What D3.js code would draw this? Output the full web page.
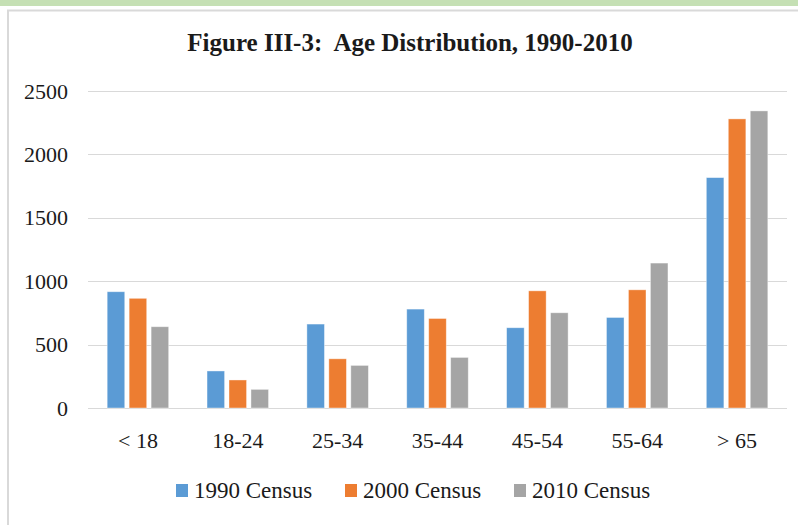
<!DOCTYPE html>
<html>
<head>
    <meta charset="utf-8">
    <style type="text/css">
        body {
            margin: 0;
            background: #fff;
        }

        svg text {
            font-family: "Liberation Serif", "DejaVu Serif", serif;
        }

        .grid line {
            stroke: #d9d9d9;
            stroke-width: 1;
        }

        .label {
            fill: #1a1a1a;
        }
    </style>
    <title>Age Distribution</title>
</head>

<body>
    <svg id="graph"></svg>

    <script src="https://cdn.jsdelivr.net/npm/d3@7"></script>
    <script>
        // Data
        var ageGroups = ['< 18', '18-24', '25-34', '35-44', '45-54', '55-64', '> 65'];
        var seriesNames = ['1990 Census', '2000 Census', '2010 Census'];
        var census1990 = [917, 292, 662, 780, 633, 714, 1817];
        var census2000 = [865, 221, 388, 706, 924, 932, 2280];
        var census2010 = [641, 147, 336, 399, 751, 1143, 2343];
        var yTicks = [0, 500, 1000, 1500, 2000, 2500];
        var colors = ['#5b9bd5', '#ed7d31', '#a5a5a5'];

        var seriesValues = [census1990, census2000, census2010];

        var W = 798, H = 525;
        var plot = { left: 88, right: 787, top: 91, bottom: 408 };
        var serif = '"Liberation Serif", "DejaVu Serif", serif';

        var svg = d3.select('#graph')
            .attr('width', W)
            .attr('height', H);

        // frame: green band on top, grey border
        svg.append('rect')
            .attr('x', 0).attr('y', 0)
            .attr('width', W).attr('height', 6)
            .attr('fill', '#c5e0b4');
        svg.append('path')
            .attr('d', 'M8,' + H + 'V10.5H' + W)
            .attr('fill', 'none')
            .attr('stroke', '#d9d9d9')
            .attr('stroke-width', 2);

        // title
        svg.append('text')
            .attr('class', 'label')
            .attr('x', 410)
            .attr('y', 51)
            .attr('text-anchor', 'middle')
            .style('font-family', serif)
            .style('font-size', '25px')
            .style('font-weight', 'bold')
            .style('white-space', 'pre')
            .text('Figure III-3:  Age Distribution, 1990-2010');

        // Scales
        var x0 = d3.scaleBand()
            .domain(ageGroups)
            .range([plot.left, plot.right])
            .paddingInner(0.34)
            .paddingOuter(0.17);

        var x1 = d3.scaleBand()
            .domain(seriesNames)
            .range([0, x0.bandwidth()])
            .paddingInner(0.2)
            .paddingOuter(0.1);

        var y = d3.scaleLinear()
            .domain([0, 2500])
            .range([plot.bottom, plot.top]);

        // gridlines
        var grid = svg.append('g').attr('class', 'grid');
        grid.selectAll('line')
            .data(yTicks)
            .enter().append('line')
            .attr('x1', plot.left)
            .attr('x2', plot.right)
            .attr('y1', d => Math.round(y(d)) + 0.5)
            .attr('y2', d => Math.round(y(d)) + 0.5);

        // y axis labels
        var yAxis = d3.axisLeft(y)
            .tickValues(yTicks)
            .tickFormat(d3.format('d'))
            .tickSize(0)
            .tickPadding(20);
        var gy = svg.append('g')
            .attr('transform', 'translate(' + plot.left + ',0)')
            .call(yAxis);
        gy.select('.domain').remove();
        gy.selectAll('text')
            .attr('class', 'label')
            .style('font-family', serif)
            .style('font-size', '22px');

        // x axis labels
        var xAxis = d3.axisBottom(x0)
            .tickSize(0)
            .tickPadding(24);
        var gx = svg.append('g')
            .attr('transform', 'translate(0,' + plot.bottom + ')')
            .call(xAxis);
        gx.select('.domain').remove();
        gx.selectAll('text')
            .attr('class', 'label')
            .style('font-family', serif)
            .style('font-size', '22px');

        // bars
        var groups = svg.append('g').selectAll('g')
            .data(ageGroups)
            .enter().append('g')
            .attr('transform', d => 'translate(' + x0(d) + ',0)');

        groups.selectAll('rect')
            .data((d, i) => seriesNames.map((s, j) => ({ series: s, idx: j, value: seriesValues[j][i] })))
            .enter().append('rect')
            .attr('x', d => x1(d.series))
            .attr('y', d => y(d.value))
            .attr('width', x1.bandwidth())
            .attr('height', d => plot.bottom - y(d.value))
            .attr('fill', d => colors[d.idx])
            .attr('stroke', '#fff')
            .attr('stroke-opacity', 0.5)
            .attr('stroke-width', 0.8);

        // legend
        var legend = svg.append('g')
            .attr('transform', 'translate(176,0)');
        var item = legend.selectAll('g')
            .data(seriesNames)
            .enter().append('g')
            .attr('transform', (d, i) => 'translate(' + (i * 169) + ',0)');
        item.append('rect')
            .attr('x', 0)
            .attr('y', 484)
            .attr('width', 12)
            .attr('height', 13)
            .attr('fill', (d, i) => colors[i]);
        item.append('text')
            .attr('class', 'label')
            .attr('x', 18)
            .attr('y', 498)
            .style('font-family', serif)
            .style('font-size', '23px')
            .text(d => d);
    </script>
</body>

</html>
